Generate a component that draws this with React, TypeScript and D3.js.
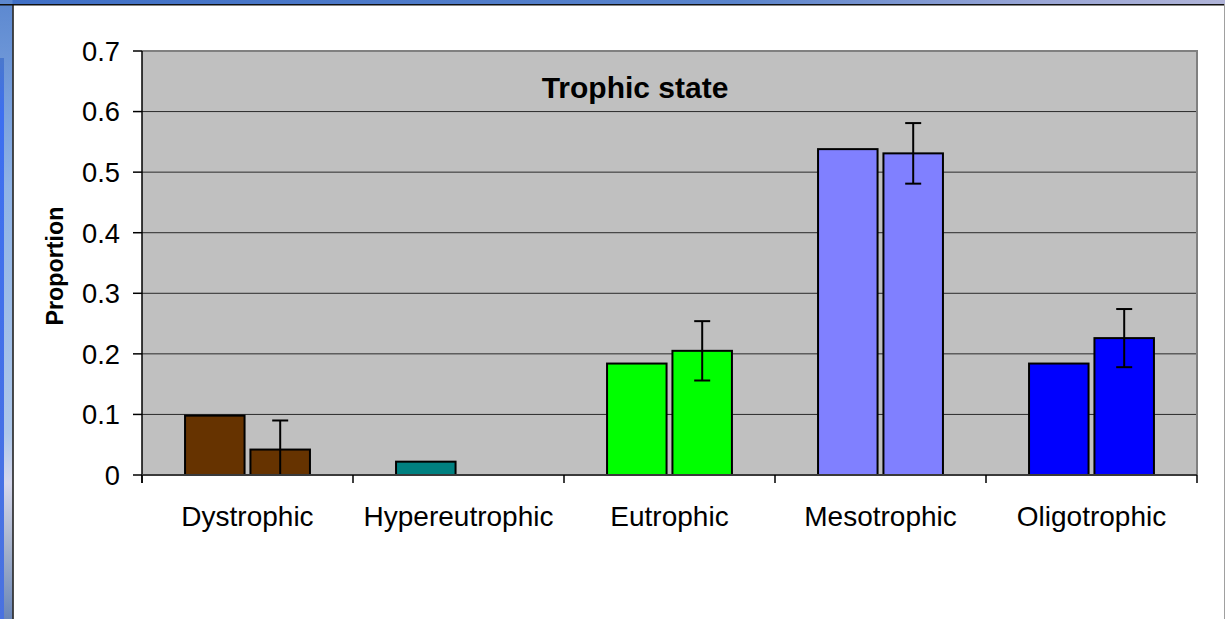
import React from "react";
import * as d3 from "d3";

const categories = ["Dystrophic", "Hypereutrophic", "Eutrophic", "Mesotrophic", "Oligotrophic"];
const seriesKeys = ["observed", "expected"];
const observed = [0.098, 0.022, 0.184, 0.538, 0.184];
const expected = [0.042, 0, 0.205, 0.531, 0.226];
const expectedErr = [0.048, 0, 0.049, 0.05, 0.048];
const categoryColors = ["#663300", "#008080", "#00FF00", "#8080FF", "#0000FF"];
const yTicks = [0, 0.1, 0.2, 0.3, 0.4, 0.5, 0.6, 0.7];
const titleText = "Trophic state";
const yLabel = "Proportion";

const W = 1225;
const H = 619;
const plot = { left: 142, right: 1197, top: 51, bottom: 475 };
const FONT = "'Liberation Sans', Arial, sans-serif";

export default function App() {
  const x0 = d3.scaleBand<string>().domain(categories).range([plot.left, plot.right]).padding(0);
  const bw = x0.bandwidth();
  const x1 = d3
    .scaleBand<string>()
    .domain(seriesKeys)
    .range([bw * 0.204, bw * 0.796])
    .paddingInner(0.09)
    .paddingOuter(0);
  const y = d3.scaleLinear().domain([0, 0.7]).range([plot.bottom, plot.top]);

  const boundaries = categories.map((c) => x0(c) as number).concat([plot.right]);

  return (
    <svg
      width={W}
      height={H}
      style={{ position: "absolute", left: 0, top: 0, display: "block" }}
      fontFamily={FONT}
    >
      <defs>
        <linearGradient id="topband" x1="0" y1="0" x2="1" y2="0">
          <stop offset="0" stopColor="#3f6fc6" />
          <stop offset="0.6" stopColor="#5a84cc" />
          <stop offset="0.85" stopColor="#9aa6d6" />
          <stop offset="1" stopColor="#b0b4d8" />
        </linearGradient>
        <linearGradient id="leftband" x1="0" y1="0" x2="0" y2="1">
          <stop offset="0" stopColor="#5c88d0" />
          <stop offset="0.3" stopColor="#8fb3e6" />
          <stop offset="0.7" stopColor="#aec8ea" />
          <stop offset="0.78" stopColor="#d6d8ec" />
          <stop offset="0.88" stopColor="#a8b4cc" />
          <stop offset="1" stopColor="#6a86b8" />
        </linearGradient>
        <linearGradient id="leftedge" x1="0" y1="0" x2="0" y2="1">
          <stop offset="0" stopColor="#4a78cc" />
          <stop offset="0.1" stopColor="#3d6ff0" />
          <stop offset="1" stopColor="#4a72e0" />
        </linearGradient>
      </defs>
      <rect x={0} y={0} width={W} height={H} fill="#ffffff" />
      {/* window frame */}
      <rect x={0} y={0} width={W} height={4.5} fill="url(#topband)" />
      <rect x={0} y={0} width={12.5} height={H} fill="url(#leftband)" />
      <rect x={0} y={58} width={4} height={H - 58} fill="url(#leftedge)" />
      <line x1={0} x2={W} y1={4.75} y2={4.75} stroke="#111" strokeWidth={1.5} />
      <line x1={13} x2={13} y1={4} y2={H} stroke="#111" strokeWidth={1.5} />
      <line x1={1224.5} x2={1224.5} y1={4} y2={H} stroke="#a0a0a0" strokeWidth={1} />

      {/* plot background */}
      <rect
        x={plot.left}
        y={plot.top}
        width={plot.right - plot.left}
        height={plot.bottom - plot.top}
        fill="#C0C0C0"
      />
      {/* gridlines */}
      {yTicks.slice(1, -1).map((t) => (
        <line key={t} x1={plot.left} x2={plot.right} y1={y(t)} y2={y(t)} stroke="#2a2a2a" strokeWidth={1} />
      ))}

      {/* bars */}
      {categories.map((c, i) => {
        const vals = [observed[i], expected[i]];
        return vals.map((v, j) => {
          if (v <= 0) return null;
          const bx = (x0(c) as number) + (x1(seriesKeys[j]) as number);
          return (
            <rect
              key={c + j}
              x={bx}
              y={y(v)}
              width={x1.bandwidth()}
              height={y(0) - y(v)}
              fill={categoryColors[i]}
              stroke="#000"
              strokeWidth={2}
            />
          );
        });
      })}

      {/* error bars */}
      {categories.map((c, i) => {
        const e = expectedErr[i];
        if (e <= 0) return null;
        const cx = (x0(c) as number) + (x1(seriesKeys[1]) as number) + x1.bandwidth() / 2;
        const hi = expected[i] + e;
        const lo = Math.max(0, expected[i] - e);
        return (
          <g key={"err" + c} stroke="#000" strokeWidth={2}>
            <line x1={cx} x2={cx} y1={y(hi)} y2={y(lo)} />
            <line x1={cx - 8} x2={cx + 8} y1={y(hi)} y2={y(hi)} />
            {lo > 0 && <line x1={cx - 8} x2={cx + 8} y1={y(lo)} y2={y(lo)} />}
          </g>
        );
      })}

      {/* plot border top/right */}
      <line x1={plot.left} x2={plot.right + 1} y1={plot.top} y2={plot.top} stroke="#808080" strokeWidth={2} />
      <line x1={plot.right} x2={plot.right} y1={plot.top} y2={plot.bottom} stroke="#808080" strokeWidth={2} />

      {/* y axis */}
      <line x1={plot.left} x2={plot.left} y1={plot.top} y2={plot.bottom + 8} stroke="#000" strokeWidth={1.5} />
      {yTicks.map((t) => (
        <g key={"yt" + t}>
          <line x1={plot.left - 9} x2={plot.left} y1={y(t)} y2={y(t)} stroke="#000" strokeWidth={1.5} />
          <text
            x={120}
            y={y(t)}
            dy="0.36em"
            textAnchor="end"
            fontSize={27.3}
            fill="#000"
          >
            {t === 0 ? "0" : t.toFixed(1)}
          </text>
        </g>
      ))}

      {/* x axis */}
      <line x1={plot.left} x2={plot.right} y1={plot.bottom} y2={plot.bottom} stroke="#3a3a3a" strokeWidth={2} />
      {boundaries.map((bx, i) => (
        <line key={"xt" + i} x1={bx} x2={bx} y1={plot.bottom} y2={plot.bottom + 8} stroke="#000" strokeWidth={1.5} />
      ))}
      {categories.map((c) => (
        <text
          key={"xl" + c}
          x={(x0(c) as number) + bw / 2}
          y={526}
          textAnchor="middle"
          fontSize={28}
          fill="#000"
        >
          {c}
        </text>
      ))}

      {/* title */}
      <text x={635} y={97.5} textAnchor="middle" fontSize={30} fontWeight="bold" fill="#000">
        {titleText}
      </text>

      {/* y label */}
      <text
        transform={`translate(62.5, 266) rotate(-90)`}
        textAnchor="middle"
        fontSize={23.3}
        fontWeight="bold"
        fill="#000"
      >
        {yLabel}
      </text>
    </svg>
  );
}
